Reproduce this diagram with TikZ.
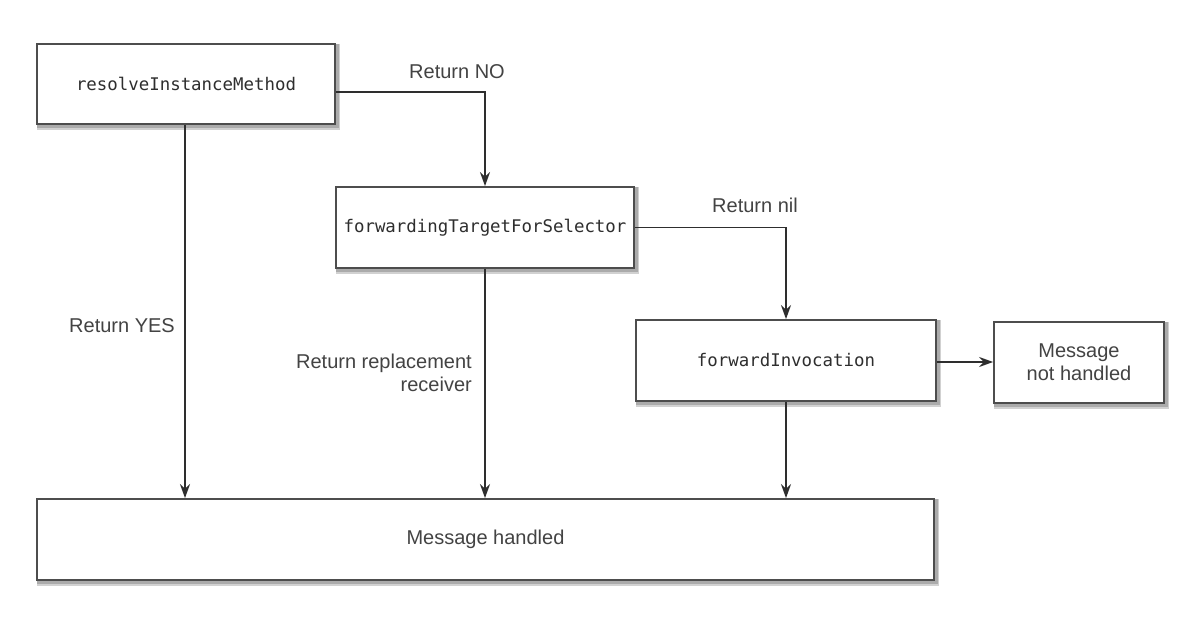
\documentclass[tikz,border=0pt]{standalone}
\usepackage{fontspec}
\setmainfont{Liberation Sans}
\newfontfamily\codefont{DejaVu Sans Mono}
\usetikzlibrary{arrows.meta,backgrounds}
\definecolor{ink}{HTML}{2E2E2E}
\begin{document}
\begin{tikzpicture}[x=1pt,y=-1pt,
  box/.style={draw=ink!85, line width=1.8pt, fill=white, rectangle,
    inner sep=0pt, align=center, text=ink},
  code/.style={font=\codefont\fontsize{17.4}{21}\selectfont},
  lbl/.style={font=\fontsize{20}{23}\selectfont, text=ink!90, inner sep=0pt},
  arr/.style={draw=ink, line width=1.8pt, -{Stealth[length=14pt,width=10pt]}},
  softshadow/.style={fill=black, opacity=0.18}]
\useasboundingbox (0,0) rectangle (1186,628);

% method boxes
\node[box, code, minimum width=298pt, minimum height=80pt] (resolve) at (186,84) {resolveInstanceMethod};
\node[box, code, minimum width=298pt, minimum height=81pt] (fwdtarget) at (485,227.5) {forwardingTargetForSelector};
\node[box, code, minimum width=300pt, minimum height=81pt] (fwdinv) at (786,360.5) {forwardInvocation};
\node[box, lbl, minimum width=170pt, minimum height=81pt] (nothandled) at (1079,362.5) {Message\\not handled};
\node[box, lbl, minimum width=897pt, minimum height=81pt] (handled) at (485.5,539.5) {Message handled};

% soft drop shadows behind the boxes
\begin{scope}[on background layer]
  \fill[white] (0,0) rectangle (1186,628);
  \foreach \b in {resolve,fwdtarget,fwdinv,nothandled,handled}{
    \fill[softshadow] ([shift={(1,1)}]\b.north west) rectangle ([shift={(4.5,5)}]\b.south east);
    \fill[softshadow] ([shift={(1,1)}]\b.north west) rectangle ([shift={(3,3.5)}]\b.south east);
  }
\end{scope}

% outcome labels
\node[lbl] (retno) at (457,72) {Return NO};
\node[lbl] (retnil) at (755,205) {Return nil};
\node[lbl] (retyes) at (122,326) {Return YES};
\node[lbl, align=right, anchor=east] (retrepl) at (472,373) {Return replacement\\receiver};

% connectors
\draw[arr] ([yshift=-8pt]resolve.east) -| (fwdtarget.north);
\draw[arr] (resolve.south -| 185,0) -- (handled.north -| 185,0);
\draw[arr] (fwdtarget.south) -- (handled.north -| fwdtarget.south);
\draw[arr] (fwdtarget.east) -| (fwdinv.north);
\draw[arr] (fwdinv.south) -- (handled.north -| fwdinv.south);
\draw[arr] ([yshift=-1.5pt]fwdinv.east) -- ([yshift=-1.5pt]fwdinv.east -| nothandled.west);
\end{tikzpicture}
\end{document}
